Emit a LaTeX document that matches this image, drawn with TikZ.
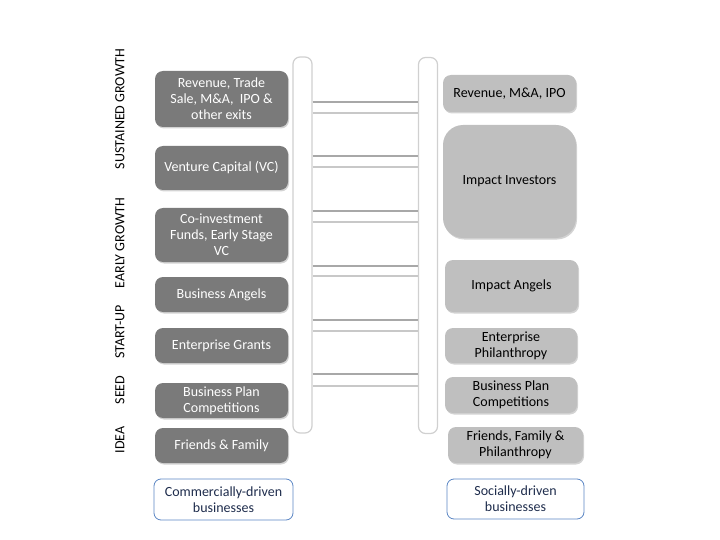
\documentclass[tikz,border=0pt]{standalone}
\usepackage{fontspec}
\setmainfont{Carlito}
\usetikzlibrary{shadows}
\definecolor{darkbox}{HTML}{7A7A7A}
\definecolor{lightbox}{HTML}{BFBFBF}
\definecolor{railgray}{HTML}{D0D0D0}
\definecolor{rungdark}{HTML}{A8A8A8}
\definecolor{runglight}{HTML}{C8C8C8}
\definecolor{blueedge}{HTML}{5B86C4}
\definecolor{navytext}{HTML}{1F2D4D}
\tikzset{
  boxbase/.style={rounded corners=8pt, align=center, inner sep=2pt, font=\fontsize{14}{16}\selectfont,
    drop shadow={opacity=0.35, shadow xshift=1pt, shadow yshift=-1.5pt}},
  lbox/.style={boxbase, fill=darkbox, text=white, minimum width=133pt},
  rbox/.style={boxbase, fill=lightbox, text=black, minimum width=133pt},
  footbox/.style={rounded corners=7pt, draw=blueedge, line width=0.8pt, fill=white, text=navytext, align=center,
    font=\fontsize{14}{16}\selectfont, inner sep=2pt},
  rail/.style={draw=railgray, line width=1.2pt, fill=white, rounded corners=7pt, minimum width=19pt, minimum height=376pt, inner sep=0pt},
  stage/.style={rotate=90, font=\fontsize{14}{16}\selectfont, text=black},
  rungA/.style={draw=rungdark, line width=1.3pt},
  rungB/.style={draw=runglight, line width=1.3pt},
}
\begin{document}
\begin{tikzpicture}[x=1pt, y=-1pt]
\useasboundingbox (0,0) rectangle (720,540);
% stage labels
\node[stage] (s1) at (120,109) {SUSTAINED GROWTH};
\node[stage] (s2) at (120,243) {EARLY GROWTH};
\node[stage] (s3) at (120,332) {START-UP};
\node[stage] (s4) at (120,390) {SEED};
\node[stage] (s5) at (120,440) {IDEA};
% rails
\node[rail] (lrail) at (302.5,245) {};
\node[rail] (rrail) at (428,245.5) {};
% rungs
\foreach \ya/\yb in {102/113,156/167,211/222,266/276,320/331,374/386}{
  \draw[rungA] (lrail.east |- 0,\ya) -- (rrail.west |- 0,\ya);
  \draw[rungB] (lrail.east |- 0,\yb) -- (rrail.west |- 0,\yb);
}
% left boxes
\node[lbox, minimum height=56pt] (l1) at (221.5,99) {Revenue, Trade\\Sale, M\&A,~ IPO \&\\other exits};
\node[lbox, minimum height=44pt] (l2) at (221.5,168) {Venture Capital (VC)};
\node[lbox, minimum height=54pt] (l3) at (221.5,235) {Co-investment\\Funds, Early Stage\\VC};
\node[lbox, minimum height=35pt] (l4) at (221.5,294.5) {Business Angels};
\node[lbox, minimum height=35pt] (l5) at (221.5,345.5) {Enterprise Grants};
\node[lbox, minimum height=35pt] (l6) at (221.5,400.5) {Business Plan\\Competitions};
\node[lbox, minimum height=35pt] (l7) at (221.5,445.5) {Friends \& Family};
% right boxes
\node[rbox, minimum height=37pt] (r1) at (509.5,93.5) {Revenue, M\&A, IPO};
\node[rbox, minimum height=113pt, rounded corners=20pt] (r2) at (509.5,181.5) {Impact Investors};
\node[rbox, minimum height=52pt] (r3) at (511.5,286) {Impact Angels};
\node[rbox, minimum height=35pt, minimum width=132pt] (r4) at (511,345.5) {Enterprise\\Philanthropy};
\node[rbox, minimum height=36pt, minimum width=132pt] (r5) at (511,395) {Business Plan\\Competitions};
\node[rbox, minimum height=36pt, minimum width=135pt] (r6) at (515.5,445) {Friends, Family \&\\Philanthropy};
% footers
\node[footbox, minimum width=139pt, minimum height=41pt] (fc) at (223.5,499.5) {Commercially-driven\\businesses};
\node[footbox, minimum width=137pt, minimum height=40pt] (fs) at (515.5,499) {Socially-driven\\businesses};
\end{tikzpicture}
\end{document}
